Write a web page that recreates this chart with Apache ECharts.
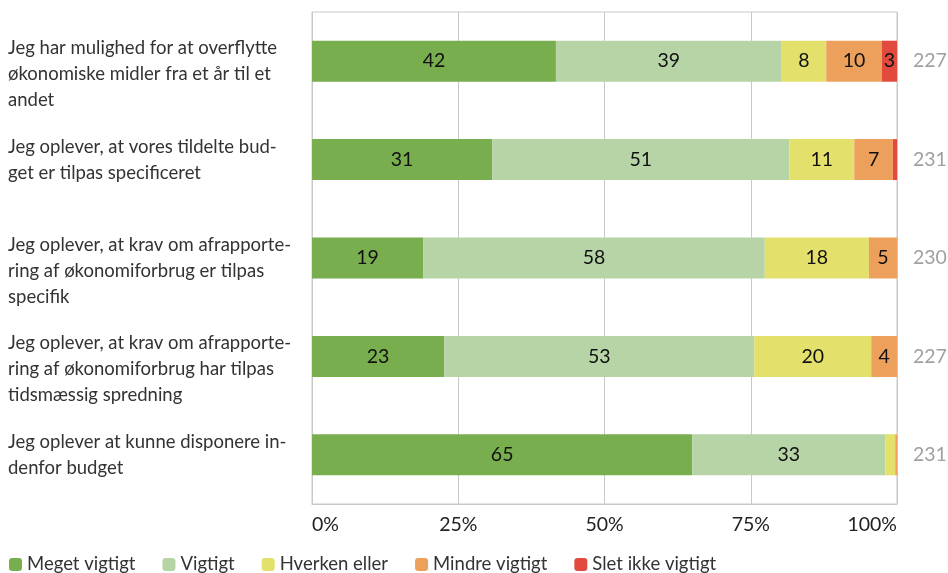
<!DOCTYPE html>
<html>
<head>
<meta charset="utf-8">
<script src="https://cdn.jsdelivr.net/npm/echarts@6/dist/echarts.min.js"></script>
<style>
html,body{margin:0;padding:0;background:#fff;}
#chart{width:948px;height:573px;}
</style>
</head>
<body>
<div id="chart"></div>
<script>
const categories = [
  "Jeg har mulighed for at overflytte\nøkonomiske midler fra et år til et\nandet",
  "Jeg oplever, at vores tildelte bud-\nget er tilpas specificeret",
  "Jeg oplever, at krav om afrapporte-\nring af økonomiforbrug er tilpas\nspecifik",
  "Jeg oplever, at krav om afrapporte-\nring af økonomiforbrug har tilpas\ntidsmæssig spredning",
  "Jeg oplever at kunne disponere in-\ndenfor budget"
];
const counts = ["227", "231", "230", "227", "231"];
const seriesNames = ["Meget vigtigt", "Vigtigt", "Hverken eller", "Mindre vigtigt", "Slet ikke vigtigt"];
const megetVigtigt   = [41.7, 30.8, 19.0, 22.6, 65.0];
const vigtigt        = [38.6, 50.8, 58.4, 53.0, 33.0];
const hverkenEller   = [7.6, 11.1, 17.8, 20.0, 1.7];
const mindreVigtigt  = [9.5, 6.6, 4.8, 4.4, 0.3];
const sletIkkeVigtigt= [2.6, 0.7, 0, 0, 0];
const xTicks = ["0%", "25%", "50%", "75%", "100%"];

const colors = ["#78ae4e", "#b6d4a5", "#e3e06b", "#eda05b", "#e24a3e"];
const dataSets = [megetVigtigt, vigtigt, hverkenEller, mindreVigtigt, sletIkkeVigtigt];
const FONT = "Lato";

const chart = echarts.init(document.getElementById('chart'));
chart.setOption({
  animation: false,
  color: colors,
  textStyle: { fontFamily: FONT },
  grid: { left: 312, right: 51, top: 12, bottom: 69, outerBoundsMode: 'none', containLabel: false,
          show: true, borderColor: '#c8c8c8', borderWidth: 1 },
  legend: {
    left: 4, bottom: -6, itemWidth: 13, itemHeight: 13, itemGap: 27, icon: 'roundRect',
    textStyle: { fontSize: 18.5, color: '#333', fontFamily: FONT },
    data: seriesNames
  },
  xAxis: {
    type: 'value', min: 0, max: 100, interval: 25,
    axisLine: { show: true, lineStyle: { color: '#c8c8c8' } },
    axisTick: { show: false },
    splitLine: { show: true, lineStyle: { color: '#c8c8c8' } },
    axisLabel: {
      fontSize: 19.5, color: '#222', margin: 11,
      alignMinLabel: 'left', alignMaxLabel: 'right',
      formatter: v => xTicks[Math.round(v / 25)]
    }
  },
  yAxis: [{
    type: 'category', data: categories, inverse: true,
    axisLine: { show: false }, axisTick: { show: false },
    axisLabel: {
      fontSize: 18.5, color: '#333', align: 'left', margin: 304, lineHeight: 26,
      formatter: v => (v.split('\n').length === 3 ? '\n' + v : v)
    }
  }, {
    type: 'category', data: counts, inverse: true, position: 'right',
    axisLine: { show: false }, axisTick: { show: false },
    axisLabel: { fontSize: 19.5, color: '#a0a0a0', margin: 16, align: 'left' }
  }],
  series: seriesNames.map((name, i) => ({
    name, type: 'bar', stack: 'total', barWidth: 41,
    data: dataSets[i],
    itemStyle: { color: colors[i] },
    label: {
      show: true, position: 'inside', color: '#111', fontSize: 19.5, fontFamily: FONT,
      formatter: p => (p.value >= 2.5 ? String(Math.round(p.value)) : '')
    }
  }))
});
</script>
</body>
</html>
